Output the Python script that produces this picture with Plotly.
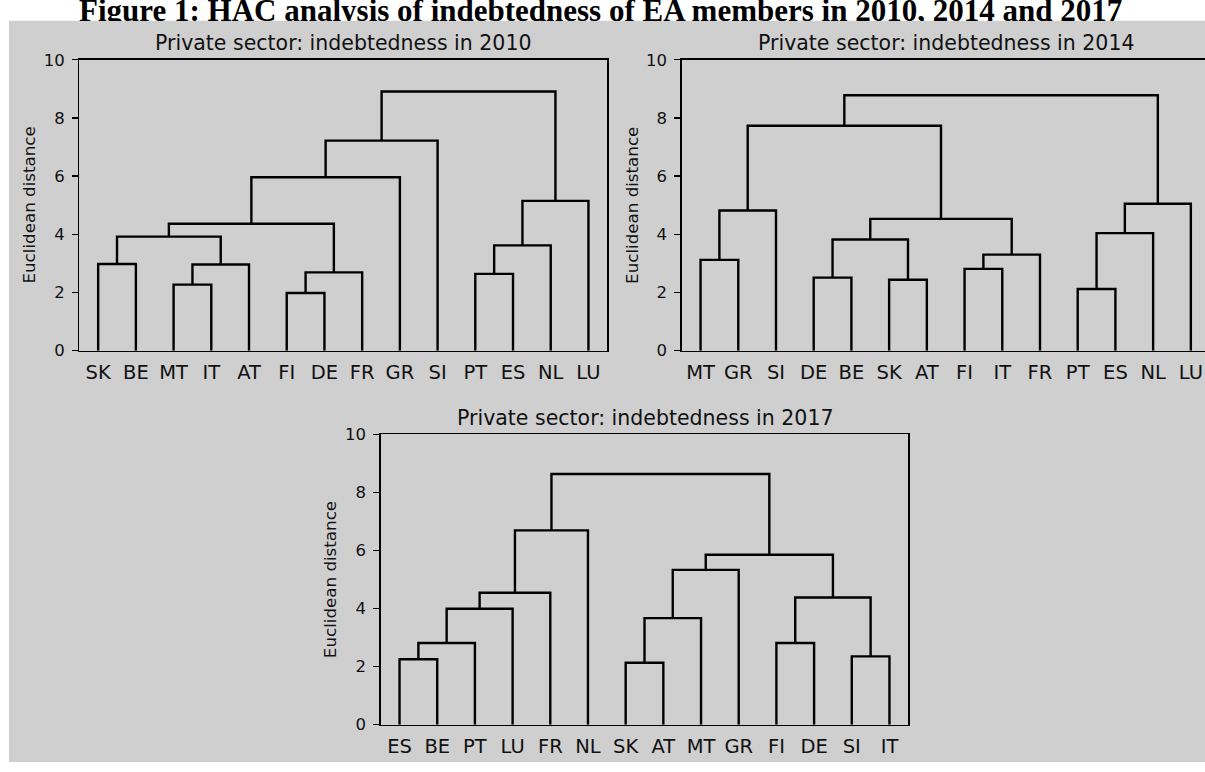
import plotly.graph_objects as go

# ---------------- data ----------------
# leaves (display order) and agglomeration steps (scipy style: index < n is a leaf,
# index >= n is the (index-n)-th merge), with Euclidean merge distances
labels_2010 = ["SK", "BE", "MT", "IT", "AT", "FI", "DE", "FR", "GR", "SI", "PT", "ES", "NL", "LU"]
left_2010 = [5, 2, 10, 14, 15, 0, 16, 19, 21, 20, 22, 24, 25]
right_2010 = [6, 3, 11, 7, 4, 1, 12, 18, 17, 13, 8, 9, 23]
height_2010 = [1.98, 2.27, 2.64, 2.69, 2.96, 2.98, 3.62, 3.92, 4.36, 5.15, 5.96, 7.22, 8.91]

labels_2014 = ["MT", "GR", "SI", "DE", "BE", "SK", "AT", "FI", "IT", "FR", "PT", "ES", "NL", "LU"]
left_2014 = [10, 5, 3, 7, 0, 17, 16, 14, 20, 18, 21, 23, 25]
right_2014 = [11, 6, 4, 8, 1, 9, 15, 12, 19, 2, 13, 22, 24]
height_2014 = [2.12, 2.44, 2.51, 2.81, 3.12, 3.30, 3.82, 4.04, 4.53, 4.82, 5.05, 7.73, 8.78]

labels_2017 = ["ES", "BE", "PT", "LU", "FR", "NL", "SK", "AT", "MT", "GR", "FI", "DE", "SI", "IT"]
left_2017 = [6, 0, 12, 15, 10, 14, 17, 18, 20, 19, 23, 22, 25]
right_2017 = [7, 1, 13, 2, 11, 8, 3, 16, 4, 9, 21, 5, 24]
height_2017 = [2.13, 2.25, 2.35, 2.81, 2.81, 3.67, 3.99, 4.38, 4.54, 5.33, 5.85, 6.69, 8.63]

y_ticks = [0, 2, 4, 6, 8, 10]
subplot_titles = ["Private sector: indebtedness in 2010",
                  "Private sector: indebtedness in 2014",
                  "Private sector: indebtedness in 2017"]
fig_title = "Figure 1: HAC analysis of indebtedness of EA members in 2010, 2014 and 2017"
y_label = "Euclidean distance"

# ---------------- layout helpers ----------------
W, H = 1205, 772
BG = "#cfcfcf"
FONT = "DejaVu Sans"
TXT = "#111111"


def px_x(x):
    return x / W


def px_y(y):
    return 1 - y / H


def dendro(labels, left, right, heights):
    n = len(labels)
    merges = list(zip(left, right, heights))
    order = []

    def trav(node):
        if node < n:
            order.append(node)
            return
        a, b, _ = merges[node - n]
        trav(a)
        trav(b)

    trav(n + len(merges) - 1)
    pos = {leaf: (5 + 10 * i, 0.0) for i, leaf in enumerate(order)}
    xs, ys = [], []
    for k, (a, b, h) in enumerate(merges):
        xa, ha = pos[a]
        xb, hb = pos[b]
        xs += [xa, xa, xb, xb, None]
        ys += [ha, h, h, hb, None]
        pos[n + k] = ((xa + xb) / 2, h)
    return [labels[i] for i in order], [5 + 10 * i for i in range(n)], xs, ys


# axes boxes in pixels: (left, top, right, bottom)
boxes = [(79.3, 52, 607.3, 350.3),
         (681.7, 52, 1209.7, 350.3),
         (380.7, 436, 908.3, 733.7)]
datasets = [(labels_2010, left_2010, right_2010, height_2010),
            (labels_2014, left_2014, right_2014, height_2014),
            (labels_2017, left_2017, right_2017, height_2017)]

fig = go.Figure()
annotations = []
layout = dict(
    width=W, height=H,
    margin=dict(l=0, r=0, t=0, b=0),
    paper_bgcolor="white",
    plot_bgcolor="white",
    showlegend=False,
)

for i, ((L, T, R, B), data) in enumerate(zip(boxes, datasets)):
    ticktext, tickvals, xs, ys = dendro(*data)
    suffix = "" if i == 0 else str(i + 1)
    fig.add_trace(go.Scatter(x=xs, y=ys, mode="lines",
                             line=dict(color="black", width=2.4),
                             xaxis="x" + suffix, yaxis="y" + suffix,
                             hoverinfo="skip"))
    right_px = min(R, W)
    x_max = 140 * (right_px - L) / (R - L)
    layout["xaxis" + suffix] = dict(
        domain=[px_x(L), px_x(right_px)], anchor="y" + suffix,
        range=[0, x_max], showgrid=False, zeroline=False,
        showline=True, linecolor="black", linewidth=1.3, mirror=True,
        tickmode="array", tickvals=tickvals, ticktext=ticktext,
        ticks="outside", ticklen=4, tickcolor="rgba(0,0,0,0)",
        tickfont=dict(family=FONT, size=19.5, color=TXT),
    )
    layout["yaxis" + suffix] = dict(
        domain=[px_y(B), px_y(T)], anchor="x" + suffix,
        range=[0, 10], showgrid=False, zeroline=False,
        showline=True, linecolor="black", linewidth=1.3,
        mirror=(R <= W),
        tickmode="array", tickvals=y_ticks,
        ticks="outside", ticklen=6, tickwidth=1.3, tickcolor="black",
        ticklabelstandoff=4,
        tickfont=dict(family=FONT, size=16.5, color=TXT),
    )
    # subplot title
    annotations.append(dict(
        text=subplot_titles[i], xref="paper", yref="paper",
        x=px_x((L + R) / 2), y=px_y(T - 17), xanchor="center", yanchor="middle",
        showarrow=False, font=dict(family=FONT, size=20.5, color=TXT),
    ))
    # y-axis title
    annotations.append(dict(
        text=y_label, xref="paper", yref="paper", textangle=-90,
        x=px_x(L - 50), y=px_y((T + B) / 2), xanchor="center", yanchor="middle",
        showarrow=False, font=dict(family=FONT, size=16.7, color=TXT),
    ))

# figure caption (document title, partly hidden behind the chart image)
annotations.append(dict(
    text="<b>" + fig_title + "</b>", xref="paper", yref="paper",
    x=px_x(600), y=px_y(1.2), xanchor="center", yanchor="middle",
    showarrow=False, font=dict(family="Liberation Serif", size=31, color="black"),
))
# grey strip covering the caption's descenders
annotations.append(dict(
    text=" ", xref="paper", yref="paper",
    x=px_x(9), y=px_y(12), xanchor="left", yanchor="top",
    width=W - 9, height=12, borderpad=0, borderwidth=0,
    bgcolor=BG, showarrow=False, font=dict(size=4),
))

layout["annotations"] = annotations
layout["shapes"] = [dict(type="rect", xref="paper", yref="paper",
                         x0=px_x(9), x1=1, y0=0, y1=px_y(12),
                         fillcolor=BG, line=dict(width=0), layer="below")]
fig.update_layout(**layout)
fig.write_html("out.html",
               config={"displayModeBar": False, "staticPlot": True},
               post_script="document.body.style.margin='0';"
                           "document.body.style.overflow='hidden';")
